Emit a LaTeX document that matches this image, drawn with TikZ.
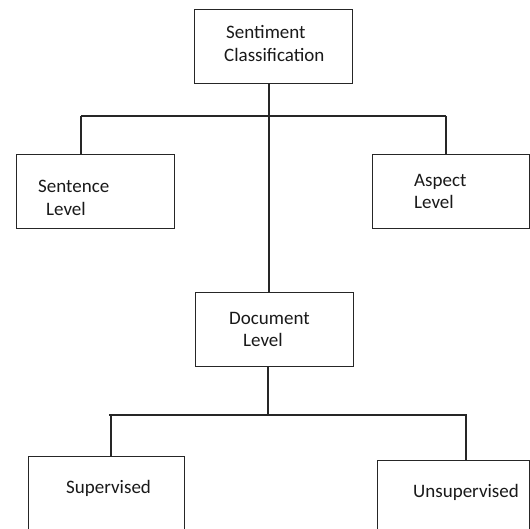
\documentclass[tikz,border=0pt]{standalone}
\usepackage{fontspec}
\setmainfont{Carlito}
\begin{document}
\begin{tikzpicture}[x=1pt,y=-1pt,
  box/.style={draw=black!85,line width=1.1pt,fill=white,anchor=north west,inner sep=0pt,minimum width=#1},
  box/.default=158pt,
  lbl/.style={anchor=base west,inner sep=0pt,font=\fontsize{19}{23}\selectfont,text=black!90},
  conn/.style={draw=black!85,line width=1.1pt}]
\useasboundingbox (0,0) rectangle (530,529);
% boxes
\node[box=158pt,minimum height=74pt] (sc) at (194,9) {};
\node[box=158pt,minimum height=74pt] (sl) at (16,154) {};
\node[box=157pt,minimum height=74pt] (al) at (372,154) {};
\node[box=158pt,minimum height=74pt] (dl) at (195,292) {};
\node[box=156pt,minimum height=80pt] (sv) at (28,456) {};
\node[box=152pt,minimum height=76pt] (us) at (377,460) {};
% junction coordinates
\coordinate (v1) at (269,116);
\coordinate (h1l) at (81,116);
\coordinate (h1r) at (446,116);
\coordinate (v2) at (268,415);
\coordinate (h2l) at (109,415);
\coordinate (h2r) at (467,415);
\coordinate (s2l) at (111,415);
\coordinate (s2r) at (466,415);
% connectors
\draw[conn] (sc.south -| v1) -- (dl.north -| v1);
\draw[conn] (h1l) -- (h1r);
\draw[conn] (h1l) -- (sl.north -| h1l);
\draw[conn] (h1r) -- (al.north -| h1r);
\draw[conn] (dl.south -| v2) -- (v2);
\draw[conn] (h2l) -- (h2r);
\draw[conn] (s2l) -- (sv.north -| s2l);
\draw[conn] (s2r) -- (us.north -| s2r);
% texts
\node[lbl] (t1a) at (226,39) {Sentiment};
\node[lbl] (t1b) at (224,62) {Classification};
\node[lbl] (t2a) at (38,193) {Sentence};
\node[lbl] (t2b) at (46,216) {Level};
\node[lbl] (t3a) at (414,187) {Aspect};
\node[lbl] (t3b) at (414,209) {Level};
\node[lbl] (t4a) at (229,324) {Document};
\node[lbl] (t4b) at (243,346) {Level};
\node[lbl] (t5) at (66,493) {Supervised};
\node[lbl] (t6) at (413,497) {Unsupervised};
\end{tikzpicture}
\end{document}
